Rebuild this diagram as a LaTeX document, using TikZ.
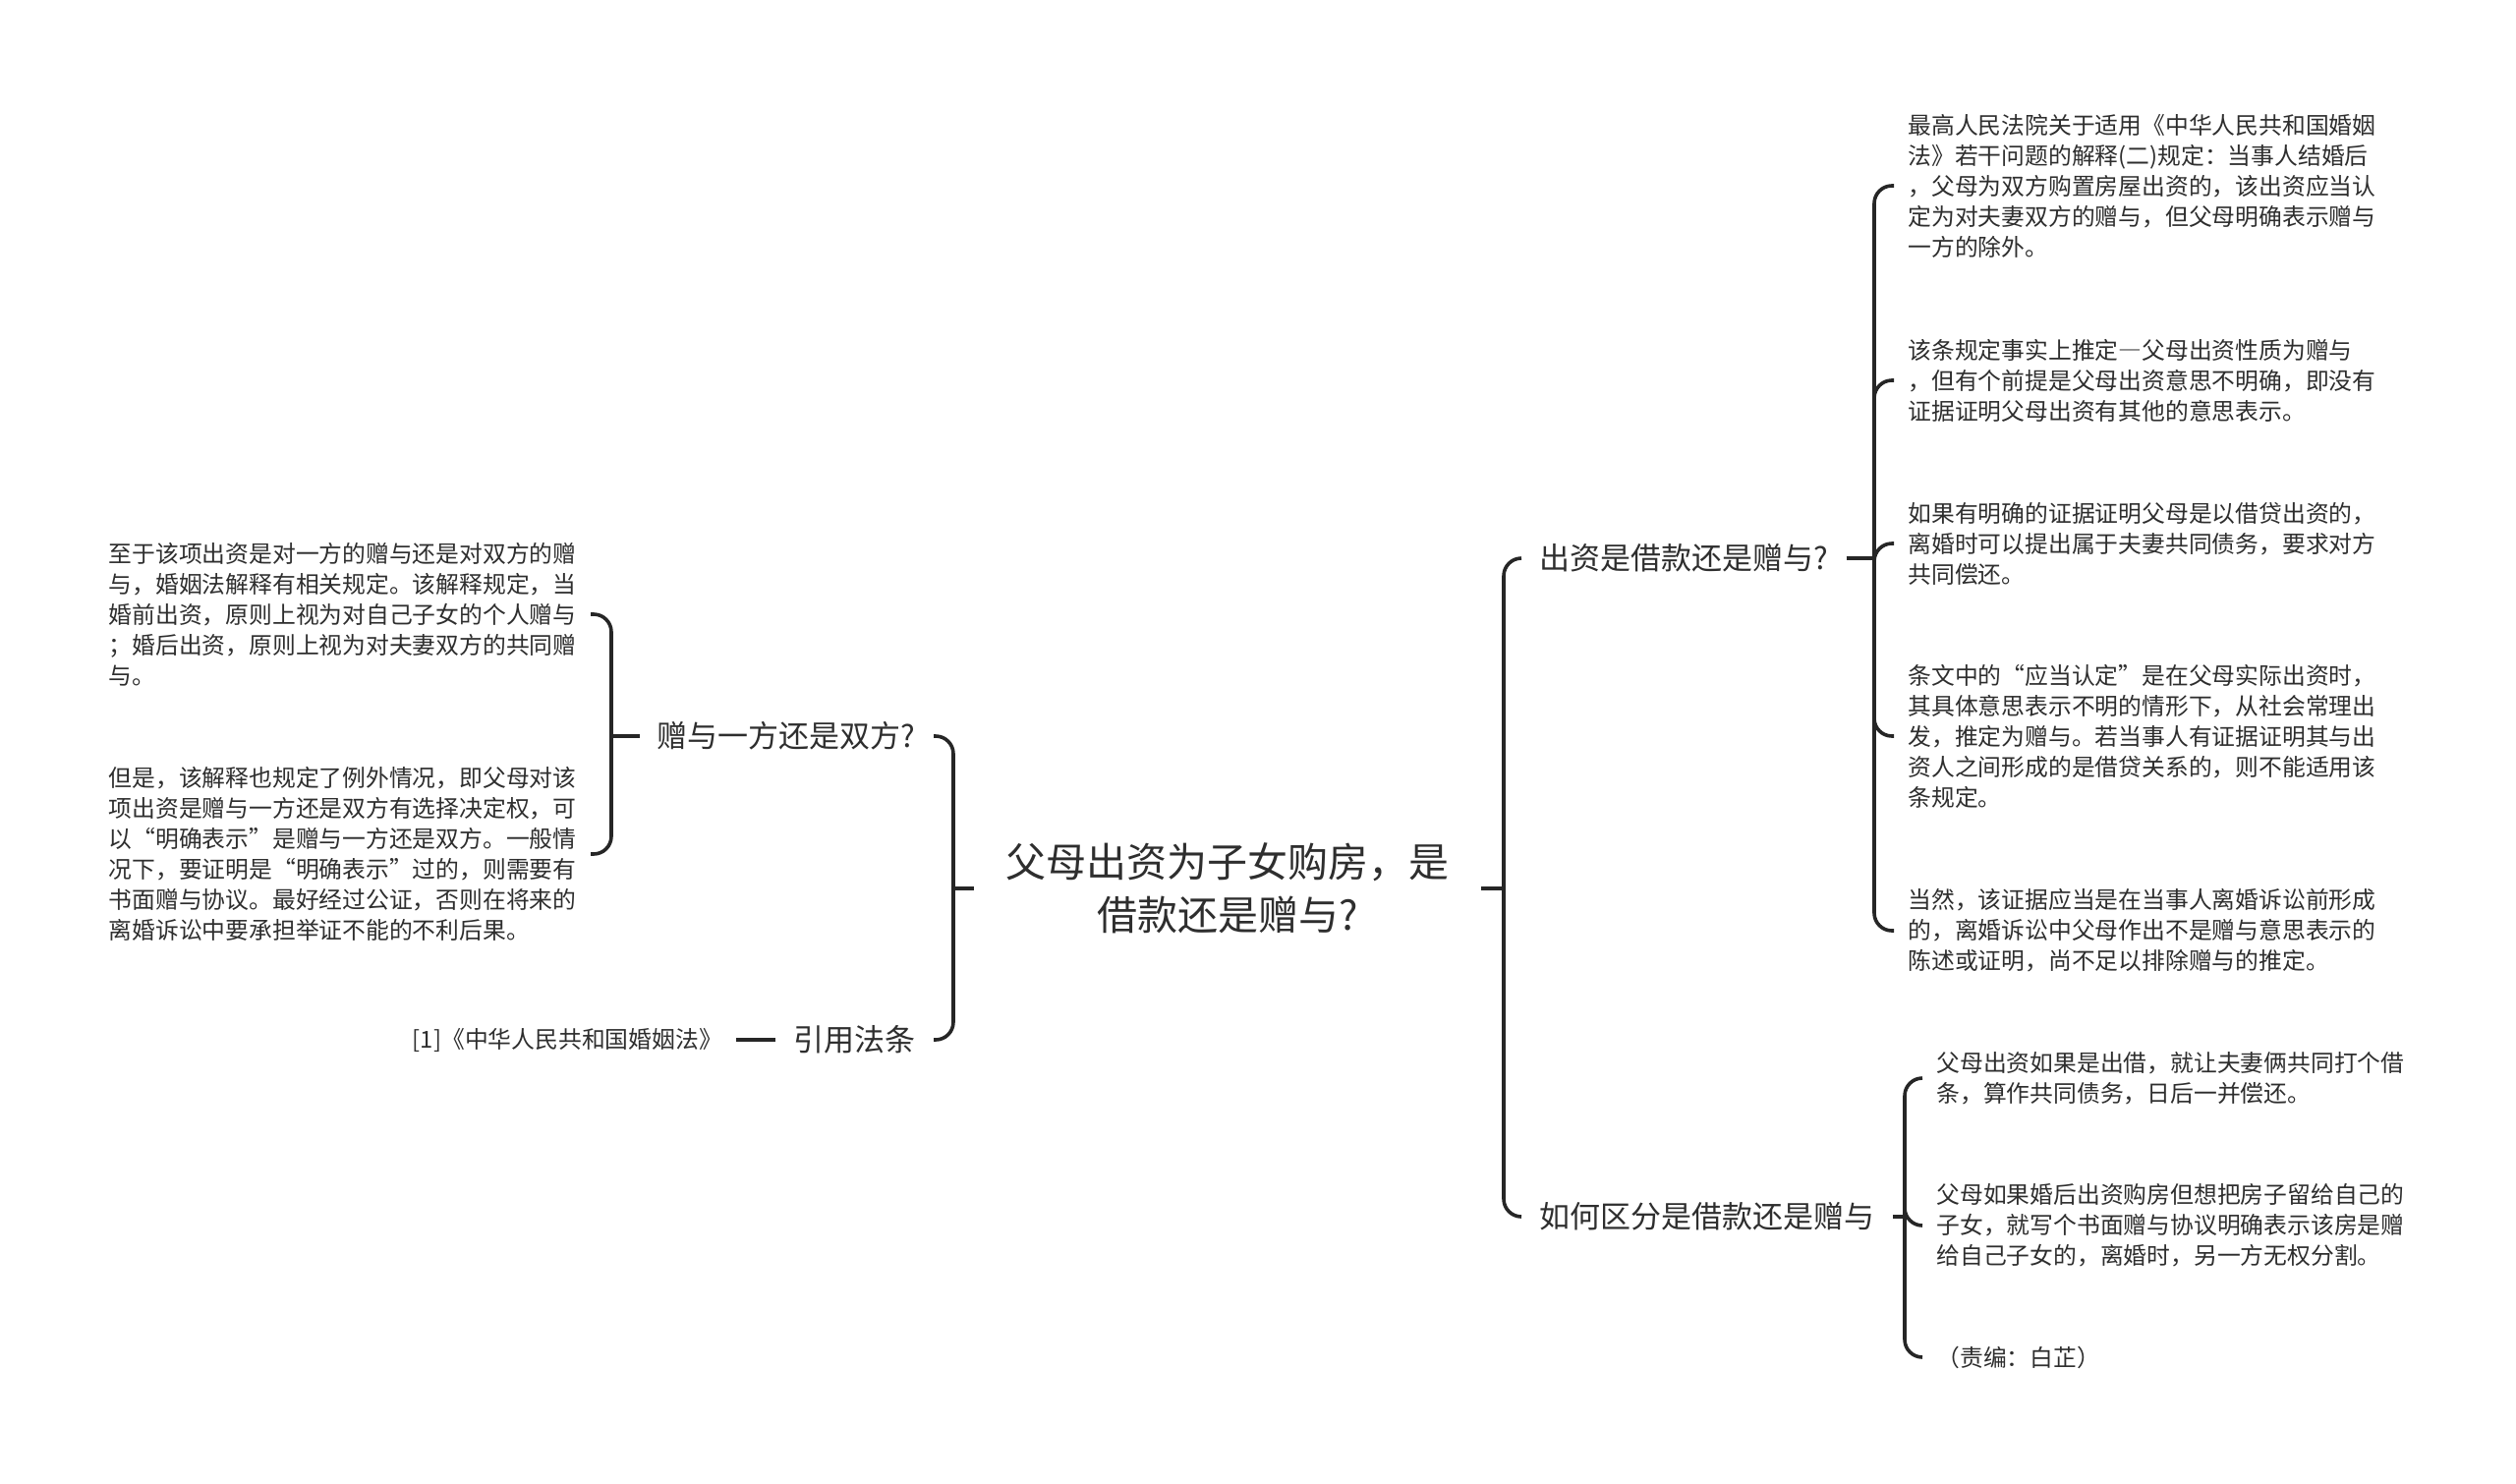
\documentclass[tikz,border=0pt]{standalone}
\usepackage{fontspec}
\setmainfont{Noto Sans CJK SC}
\usetikzlibrary{positioning}

\begin{document}
\begin{tikzpicture}[
    x=0.5pt, y=-0.5pt,
    txt/.style={inner ysep=0pt, text=black!82, align=left},
    root/.style={txt, inner xsep=16pt, align=center, font=\fontsize{20.5pt}{27pt}\selectfont},
    topic/.style={txt, inner xsep=9pt, font=\fontsize{15.5pt}{19pt}\selectfont},
    leaf/.style={txt, inner xsep=7pt, font=\fontsize{11.9pt}{15.5pt}\selectfont},
    link/.style={draw=black!85, line width=1.8pt, rounded corners=9pt},
]
\useasboundingbox (0,0) rectangle (2560,1510);

\node[root] (root) at (1249,904) {父母出资为子女购房，是\\借款还是赠与?};

% right branches
\node[topic, anchor=west] (cz) at (1548,568) {出资是借款还是赠与?};
\node[topic, anchor=west] (qf) at (1548,1238) {如何区分是借款还是赠与};

\node[leaf, anchor=west] (cz1) at (1927,189) {最高人民法院关于适用《中华人民共和国婚姻\\法》若干问题的解释(二)规定：当事人结婚后\\，父母为双方购置房屋出资的，该出资应当认\\定为对夫妻双方的赠与，但父母明确表示赠与\\一方的除外。};
\node[leaf, anchor=west] (cz2) at (1927,387) {该条规定事实上推定\makebox[1em]{―}父母出资性质为赠与\\，但有个前提是父母出资意思不明确，即没有\\证据证明父母出资有其他的意思表示。};
\node[leaf, anchor=west] (cz3) at (1927,553) {如果有明确的证据证明父母是以借贷出资的，\\离婚时可以提出属于夫妻共同债务，要求对方\\共同偿还。};
\node[leaf, anchor=west] (cz4) at (1927,749) {条文中的“应当认定”是在父母实际出资时，\\其具体意思表示不明的情形下，从社会常理出\\发，推定为赠与。若当事人有证据证明其与出\\资人之间形成的是借贷关系的，则不能适用该\\条规定。};
\node[leaf, anchor=west] (cz5) at (1927,947) {当然，该证据应当是在当事人离婚诉讼前形成\\的，离婚诉讼中父母作出不是赠与意思表示的\\陈述或证明，尚不足以排除赠与的推定。};

\node[leaf, anchor=west] (qf1) at (1956,1097) {父母出资如果是出借，就让夫妻俩共同打个借\\条，算作共同债务，日后一并偿还。};
\node[leaf, anchor=west] (qf2) at (1956,1247) {父母如果婚后出资购房但想把房子留给自己的\\子女，就写个书面赠与协议明确表示该房是赠\\给自己子女的，离婚时，另一方无权分割。};
\node[leaf, anchor=west] (qf3) at (1956,1381) {（责编：白芷）};

% left branches
\node[topic, anchor=east] (zy) at (950,749) {赠与一方还是双方?};
\node[topic, anchor=east] (yf) at (950,1058) {引用法条};

\node[leaf, anchor=east] (zy1) at (601,625) {至于该项出资是对一方的赠与还是对双方的赠\\与，婚姻法解释有相关规定。该解释规定，当\\婚前出资，原则上视为对自己子女的个人赠与\\；婚后出资，原则上视为对夫妻双方的共同赠\\与。};
\node[leaf, anchor=east] (zy2) at (601,869) {但是，该解释也规定了例外情况，即父母对该\\项出资是赠与一方还是双方有选择决定权，可\\以“明确表示”是赠与一方还是双方。一般情\\况下，要证明是“明确表示”过的，则需要有\\书面赠与协议。最好经过公证，否则在将来的\\离婚诉讼中要承担举证不能的不利后果。};
\node[leaf, left=20pt of yf] (yf1) {[1]《中华人民共和国婚姻法》};

% junctions
\coordinate (rj) at (1530,904);
\coordinate (lj) at (970,904);
\coordinate (czj) at (1907,568);
\coordinate (qfj) at (1938,1238);
\coordinate (zyj) at (622,749);

\draw[link] (root) -- (rj);
\draw[link] (root) -- (lj);
\foreach \t in {cz,qf} \draw[link] (rj) |- (\t.west);
\foreach \t in {zy,yf} \draw[link] (lj) |- (\t.east);

\draw[link] (cz) -- (czj);
\foreach \t in {cz1,cz2,cz3,cz4,cz5} \draw[link] (czj) |- (\t.west);
\draw[link] (qf) -- (qfj);
\foreach \t in {qf1,qf2,qf3} \draw[link] (qfj) |- (\t.west);
\draw[link] (zy) -- (zyj);
\foreach \t in {zy1,zy2} \draw[link] (zyj) |- (\t.east);
\draw[link] (yf) -- (yf1);
\end{tikzpicture}
\end{document}
